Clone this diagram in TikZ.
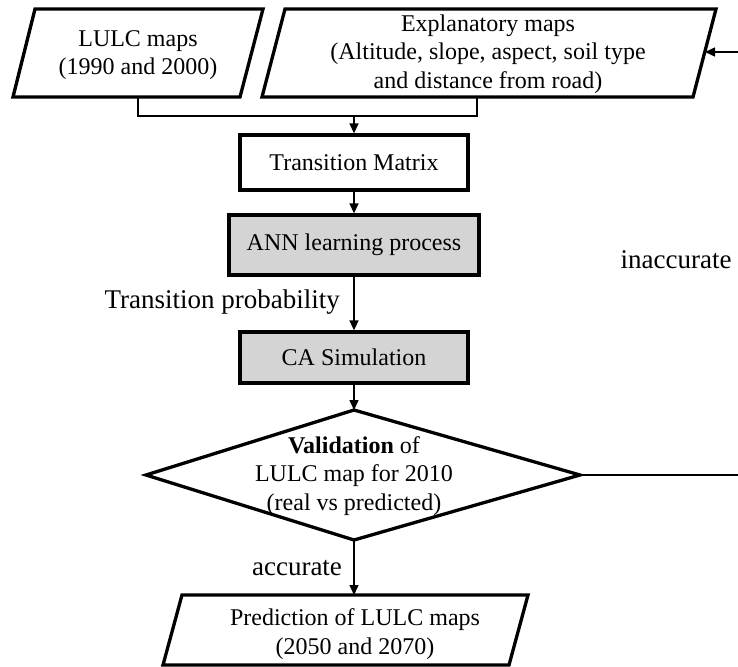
\documentclass[tikz,border=0pt]{standalone}
\usepackage{fontspec}
\setmainfont{Liberation Serif}
\usetikzlibrary{arrows.meta}
\definecolor{boxgray}{RGB}{212,212,212}
\tikzset{
  shapeline/.style={line width=3.3pt, line join=miter},
  conn/.style={line width=1.5pt},
  arr/.style={conn, -{Triangle[length=10pt,width=9pt]}},
  boxtext/.style={align=center, inner sep=0pt, font=\fontsize{24}{28.5}\selectfont},
  procbox/.style={draw, shapeline, inner sep=0pt, align=center, font=\fontsize{24}{28.5}\selectfont},
  graybox/.style={procbox, fill=boxgray},
  lbl/.style={inner sep=0pt, font=\fontsize{27}{32}\selectfont}
}
\begin{document}
\begin{tikzpicture}[x=1pt,y=-1pt]
\useasboundingbox (0,0) rectangle (738,666);
% parallelogram: LULC maps
\draw[shapeline] (35,9) -- (263,9) -- (240,97) -- (13,97) -- cycle;
\node[boxtext] (lulc) at (138,55) {LULC maps\\(1990 and 2000)};
\coordinate (lulcB) at (138,97);
% parallelogram: Explanatory maps
\draw[shapeline] (285,9) -- (716,9) -- (693,97) -- (262,97) -- cycle;
\node[boxtext] (expl) at (488,54) {Explanatory maps\\(Altitude, slope, aspect, soil type\\and distance from road)};
\coordinate (explB) at (477,97);
\coordinate (explR) at (705,52);
% boxes
\node[procbox, minimum width=228pt, minimum height=55pt] (tm) at (354,162.5) {Transition Matrix};
\node[graybox, minimum width=250pt, minimum height=60pt] (ann) at (354,245) {ANN learning process};
\node[graybox, minimum width=228pt, minimum height=51pt] (ca) at (354,357.5) {CA Simulation};
% diamond
\coordinate (dT) at (354,410);
\coordinate (dR) at (580,475);
\coordinate (dB) at (354,540);
\coordinate (dL) at (146,475);
\draw[shapeline] (dT) -- (dR) -- (dB) -- (dL) -- cycle;
\node[boxtext] (val) at (354,476) {\textbf{Validation} of\\LULC map for 2010\\(real vs predicted)};
% parallelogram: Prediction
\draw[shapeline] (182,595) -- (528,595) -- (509,665) -- (163,665) -- cycle;
\node[boxtext] (pred) at (355,634) {Prediction of LULC maps\\(2050 and 2070)};
\coordinate (predT) at (354,595);
% connectors
\coordinate (j1) at (138,116);
\coordinate (j2) at (477,116);
\coordinate (jm) at (354,116);
\draw[conn] (lulcB) -- (j1) -- (j2) -- (explB);
\draw[arr] (jm) -- (tm.north);
\draw[arr] (tm.south) -- (ann.north);
\draw[arr] (ann.south) -- (ca.north);
\draw[arr] (ca.south) -- (dT);
\draw[arr] (dB) -- (predT);
\coordinate (fb1) at (742,475);
\coordinate (fb2) at (742,52);
\draw[conn] (dR) -- (fb1) -- (fb2);
\draw[arr] (fb2) -- (explR);
% labels
\node[lbl, anchor=east] (tp) at (340,302) {Transition probability};
\node[lbl] (inacc) at (676,260) {inaccurate};
\node[lbl] (acc) at (297,568) {accurate};
\end{tikzpicture}
\end{document}
